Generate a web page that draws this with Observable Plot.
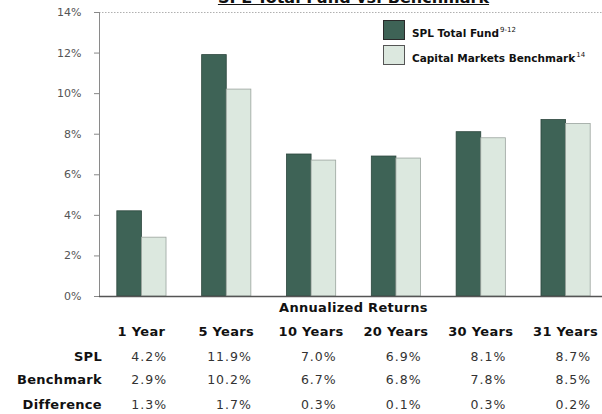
<!DOCTYPE html>
<html><head><meta charset="utf-8">
<script src="https://cdn.jsdelivr.net/npm/d3@7"></script>
<script src="https://cdn.jsdelivr.net/npm/@observablehq/plot@0.6"></script>
<style>
body{margin:0;background:#fff;font-family:"DejaVu Sans",sans-serif;}
#fig{position:relative;width:602px;height:414px;overflow:hidden;background:#fff;}
#fig svg{position:absolute;left:0;top:0;overflow:hidden;}
.abs{position:absolute;white-space:nowrap;line-height:16px;}
.title{font-size:16px;font-weight:bold;text-decoration:underline;color:#111;transform:translateX(-50%);}
.leg-box{position:absolute;width:22px;height:20px;box-sizing:border-box;}
.leg-text{font-size:10.5px;font-weight:bold;color:#111;}
.leg-text sup{font-size:7px;font-weight:normal;vertical-align:5px;margin-left:1px;}
.hdr{font-size:13px;font-weight:bold;color:#111;letter-spacing:0.3px;}
.val{font-size:12.5px;color:#333;letter-spacing:1px;}
</style></head><body><div id="fig"></div>
<script>
const periods = ["1 Year","5 Years","10 Years","20 Years","30 Years","31 Years"];
const splValues = [4.2, 11.9, 7.0, 6.9, 8.1, 8.7];
const benchmarkValues = [2.9, 10.2, 6.7, 6.8, 7.8, 8.5];
const differenceValues = [1.3, 1.7, 0.3, 0.1, 0.3, 0.2];
const seriesNames = ["SPL Total Fund", "Capital Markets Benchmark"];
const seriesNotes = ["9-12", "14"];
const rowLabels = ["SPL", "Benchmark", "Difference"];
const yTicks = [0, 2, 4, 6, 8, 10, 12, 14];
const tableTitle = "Annualized Returns";
const chartTitle = "SPL Total Fund vs. Benchmark";

const colors = {spl: "#3e6356", splStroke: "#2c463d", bench: "#dce8df", benchStroke: "#9aa39d"};

const W = 602, H = 306, mL = 99, mR = -6, mT = 12, mB = 10;
const xOpts = {domain: periods, paddingInner: 0.42, paddingOuter: 0.21, round: false};
const xs = Plot.scale({x: {type: "band", ...xOpts, range: [mL, W - mR]}});
const half = xs.bandwidth / 2;

const splRows = periods.map((p, i) => ({period: p, value: splValues[i]}));
const benchRows = periods.map((p, i) => ({period: p, value: benchmarkValues[i]}));

const chart = Plot.plot({
  width: W, height: H, marginLeft: mL, marginRight: mR, marginTop: mT, marginBottom: mB,
  style: {fontFamily: "DejaVu Sans, sans-serif", background: "transparent"},
  x: {...xOpts, axis: null},
  y: {domain: [0, 14], label: null, axis: null},
  marks: [
    Plot.ruleY([14], {stroke: "#b0b0b0", strokeDasharray: "1.5,1.5"}),
    Plot.barY(splRows, {x: "period", y: "value", fill: colors.spl, stroke: colors.splStroke, strokeWidth: 0.8, insetRight: half}),
    Plot.barY(benchRows, {x: "period", y: "value", fill: colors.bench, stroke: colors.benchStroke, strokeWidth: 0.8, insetLeft: half}),
    Plot.frame({anchor: "left", stroke: "#8a8a8a"}),
    Plot.ruleY([0], {stroke: "#555", strokeWidth: 1.5}),
    Plot.axisY({ticks: yTicks, tickFormat: d => d + "%", tickSize: 5, tickPadding: 13, fontSize: 11, fill: "#555", stroke: "#888", label: null})
  ]
});

const fig = document.getElementById("fig");
fig.appendChild(chart);

const x = chart.scale("x");
const bw = x.bandwidth;

function add(cls, text, styles) {
  const d = document.createElement("div");
  d.className = "abs " + cls;
  d.innerHTML = text;
  Object.assign(d.style, styles);
  fig.appendChild(d);
  return d;
}

// title (partly cut at the top, as in the reference)
add("title", chartTitle, {left: ((mL + W - mR) / 2) + "px", top: "-10.5px"});

// legend
const legTops = [20, 45];
seriesNames.forEach((name, i) => {
  const box = document.createElement("div");
  box.className = "leg-box";
  Object.assign(box.style, {left: "383px", top: legTops[i] + "px",
    background: i === 0 ? colors.spl : colors.bench,
    border: "1.5px solid " + (i === 0 ? "#2a2a2a" : "#555")});
  fig.appendChild(box);
  add("leg-text", name + "<sup>" + seriesNotes[i] + "</sup>", {left: "412px", top: (legTops[i] + 2) + "px"});
});

// table
const centerX = (mL + W - mR) / 2;
add("hdr", tableTitle, {top: "300px", left: centerX + "px", transform: "translateX(-50%)"});
periods.forEach(p => {
  const x0 = x.apply(p);
  add("hdr", p, {top: "324px", left: (x0 + bw / 2) + "px", transform: "translateX(-50%)"});
});
const rows = [splValues, benchmarkValues, differenceValues];
const rowTops = [349, 372, 397];
rows.forEach((vals, r) => {
  add("hdr", rowLabels[r], {top: rowTops[r] + "px", right: (W - 102) + "px"});
  vals.forEach((v, i) => {
    const x0 = x.apply(periods[i]);
    add("val", v.toFixed(1) + "%", {top: rowTops[r] + "px", right: (W - (x0 + bw + 1)) + "px"});
  });
});
</script></body></html>
